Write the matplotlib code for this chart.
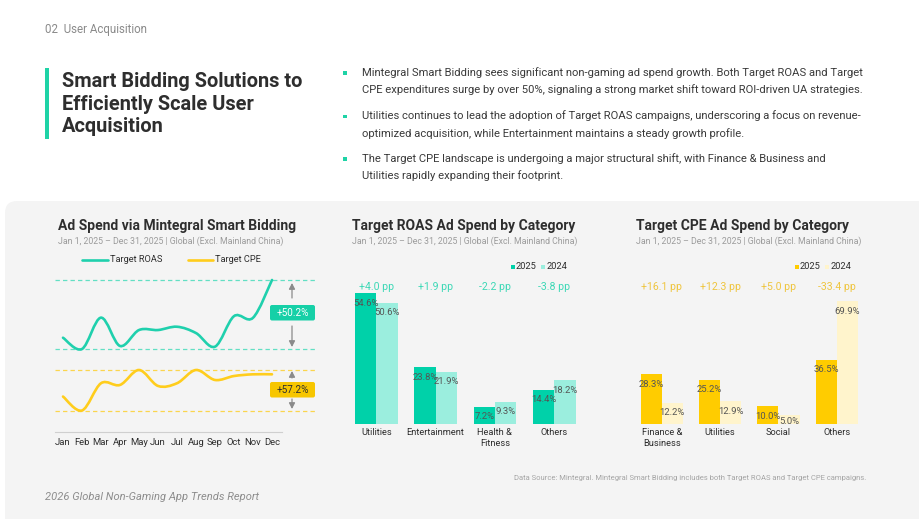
import numpy as np
import matplotlib
matplotlib.use("Agg")
import matplotlib.pyplot as plt
from matplotlib.path import Path
from matplotlib.patches import PathPatch, FancyBboxPatch, Rectangle

W, H = 920, 519

# monthly ad spend index (Feb = 100)
months = ["Jan", "Feb", "Mar", "Apr", "May", "Jun", "Jul", "Aug", "Sep", "Oct", "Nov", "Dec"]
roas_trend = [108.2, 100.0, 122.8, 102.2, 113.8, 113.8, 116.2, 111.6, 101.7, 123.9, 122.7, 150.2]
cpe_trend = [119.7, 100.0, 138.5, 136.1, 157.2, 134.7, 138.5, 157.2, 143.1, 148.7, 151.1, 151.1]

roas_cats = ["Utilities", "Entertainment", "Health &\nFitness", "Others"]
roas_2025 = [54.6, 23.8, 7.2, 14.4]
roas_2024 = [50.6, 21.9, 9.3, 18.2]
roas_pp = [4.0, 1.9, -2.2, -3.8]

cpe_cats = ["Finance &\nBusiness", "Utilities", "Social", "Others"]
cpe_2025 = [28.3, 25.2, 10.0, 36.5]
cpe_2024 = [12.2, 12.9, 5.0, 69.9]
cpe_pp = [16.1, 12.3, 5.0, -33.4]

bullets = [
    "Mintegral Smart Bidding sees significant non-gaming ad spend growth. Both Target ROAS and Target\n"
    "CPE expenditures surge by over 50%, signaling a strong market shift toward ROI-driven UA strategies.",
    "Utilities continues to lead the adoption of Target ROAS campaigns, underscoring a focus on revenue-\n"
    "optimized acquisition, while Entertainment maintains a steady growth profile.",
    "The Target CPE landscape is undergoing a major structural shift, with Finance & Business and\n"
    "Utilities rapidly expanding their footprint.",
]

TEAL = "#00d1a9"
TEAL_L = "#9beede"
TEAL_T = "#3dd8b6"
YEL = "#ffcc00"
YEL_L = "#fff4cc"
YEL_T = "#efc53f"
DARK = "#2e2e2e"
GREY = "#9b9b9b"
PANEL = "#f4f4f4"

plt.rcParams["font.family"] = ["Roboto", "DejaVu Sans"]

fig = plt.figure(figsize=(W / 100, H / 100), dpi=100)
fig.patch.set_facecolor("white")

# pixel-coordinate background axes for decoration and text
bg = fig.add_axes([0, 0, 1, 1])
bg.set_xlim(0, W)
bg.set_ylim(H, 0)
bg.axis("off")
bg.set_zorder(0)


def px_axes(l, t, r, b):
    ax = fig.add_axes([l / W, 1 - b / H, (r - l) / W, (b - t) / H])
    ax.set_facecolor("none")
    ax.set_zorder(2)
    return ax


def lim_from(v1, p1, v2, p2, top, bottom):
    # y limits so that value v1 lands on pixel row p1 and v2 on p2
    k = (v2 - v1) / (p1 - p2)
    return v1 - (bottom - p1) * k, v1 + (p1 - top) * k


def smooth_path(x, y):
    pts = np.column_stack([x, y]).astype(float)
    n = len(pts)
    verts = [pts[0]]
    codes = [Path.MOVETO]
    for i in range(n - 1):
        p0 = pts[max(i - 1, 0)]
        p1 = pts[i]
        p2 = pts[i + 1]
        p3 = pts[min(i + 2, n - 1)]
        verts += [p1 + (p2 - p0) / 6, p2 - (p3 - p1) / 6, p2]
        codes += [Path.CURVE4] * 3
    return Path(verts, codes)


# grey panel
bg.add_patch(FancyBboxPatch((5, 201), 930, 340, boxstyle="round,pad=0,rounding_size=12",
                            fc=PANEL, ec="none", zorder=0))

# header
bg.text(45, 30, "02  User Acquisition", fontsize=8.3, color="#8a8a8a", va="center")
bg.add_patch(Rectangle((45, 68), 4, 71, fc="#1ed3a6", ec="none"))
bg.text(62, 104, "Smart Bidding Solutions to\nEfficiently Scale User\nAcquisition",
        fontsize=14.4, fontweight="bold", color=DARK, va="center", linespacing=1.25)
for i, txt in enumerate(bullets):
    yc = [81, 124.5, 167][i]
    bg.add_patch(Rectangle((343.5, [71, 114.5, 157][i]), 3.5, 3.5, fc="#1ed3a6", ec="none"))
    bg.text(362, yc, txt, fontsize=8.15, color="#3a3a3a", va="center", linespacing=1.72)

# footers
bg.text(866, 478, "Data Source: Mintegral. Mintegral Smart Bidding includes both Target ROAS and Target CPE campaigns.",
        fontsize=5.5, color="#a5a5a5", ha="right", va="center")
bg.text(45, 497, "2026 Global Non-Gaming App Trends Report", fontsize=8.0, color="#8d8d8d",
        style="italic", va="center")

# chart titles
sub = "Jan 1, 2025 \u2013 Dec 31, 2025 | Global (Excl. Mainland China)"
for x0, title in [(58, "Ad Spend via Mintegral Smart Bidding"),
                  (352, "Target ROAS Ad Spend by Category"),
                  (636, "Target CPE Ad Spend by Category")]:
    bg.text(x0, 226, title, fontsize=10.0, fontweight="bold", color=DARK, va="center")
    bg.text(x0, 241.5, sub, fontsize=6.3, color=GREY, va="center")

# ---- line chart ----
L, T, R, B = 55, 265, 318, 432
ax_r = px_axes(L, T, R, B)
ax_c = px_axes(L, T, R, B)
x = np.arange(len(months))
xl = ((L - 63) / 19, (R - 63) / 19)
for ax in (ax_r, ax_c):
    ax.set_xlim(*xl)
    for s in ax.spines.values():
        s.set_visible(False)
    ax.set_yticks([])
ax_c.set_xticks([])

r_min, r_max = min(roas_trend), max(roas_trend)
c_min, c_max = min(cpe_trend), max(cpe_trend)
ax_r.set_ylim(*lim_from(r_min, 349, r_max, 280, T, B))
ax_c.set_ylim(*lim_from(c_min, 410.5, c_max, 370, T, B))

ax_r.set_xticks(x, months, fontsize=6.8, color=DARK)
ax_r.tick_params(axis="x", length=0, pad=4.0)
ax_r.spines["bottom"].set_visible(True)
ax_r.spines["bottom"].set_color("#cfcfcf")
ax_r.spines["bottom"].set_linewidth(0.8)
ax_r.spines["bottom"].set_bounds(xl[0], (282 - 63) / 19)

xmax_frac = (315 - L) / (R - L)
for v in (r_min, r_max):
    ax_r.axhline(v, xmax=xmax_frac, color="#63dfc4", lw=0.9, dashes=(3.5, 2.5))
for v in (c_min, c_max):
    ax_c.axhline(v, xmax=xmax_frac, color="#fbd54e", lw=0.9, dashes=(3.5, 2.5))

ax_r.add_patch(PathPatch(smooth_path(x, roas_trend), fc="none", ec="#1fd0ad", lw=1.9,
                         capstyle="round", zorder=3))
ax_c.add_patch(PathPatch(smooth_path(x, cpe_trend), fc="none", ec="#ffcd1c", lw=1.9,
                         capstyle="round", zorder=3))

# legend
bg.plot([82, 108], [260, 260], color="#1fd0ad", lw=1.9, solid_capstyle="round")
bg.text(110, 260, "Target ROAS", fontsize=6.7, color=DARK, va="center")
bg.plot([188, 213], [260, 260], color="#ffcd1c", lw=1.9, solid_capstyle="round")
bg.text(215, 260, "Target CPE", fontsize=6.7, color=DARK, va="center")

# growth callouts
arrow = dict(arrowstyle="-|>,head_length=0.35,head_width=0.18", color="#8a8a8a", lw=0.9,
             shrinkA=0, shrinkB=0)
r_gain = (r_max / r_min - 1) * 100
c_gain = (c_max / c_min - 1) * 100
bg.add_patch(FancyBboxPatch((270, 305), 45, 15.5, boxstyle="round,pad=0,rounding_size=2",
                            fc="#16d0a7", ec="none", zorder=3))
bg.text(292.5, 313, f"+{r_gain:.1f}%", fontsize=7.2, color="white", ha="center", va="center", zorder=4)
bg.add_patch(FancyBboxPatch((270, 382), 45, 15.5, boxstyle="round,pad=0,rounding_size=2",
                            fc="#f7c600", ec="none", zorder=3))
bg.text(292.5, 390, f"+{c_gain:.1f}%", fontsize=7.2, color=DARK, ha="center", va="center", zorder=4)
bg.annotate("", xy=(292, 283), xytext=(292, 298), arrowprops=arrow)
bg.annotate("", xy=(292, 347), xytext=(292, 326), arrowprops=arrow)
bg.annotate("", xy=(292, 371), xytext=(292, 378), arrowprops=arrow)
bg.annotate("", xy=(292, 409), xytext=(292, 399), arrowprops=arrow)


# ---- bar charts ----
def bar_chart(l, r, scale, cats, v25, v24, pp, c25, c24, ctext):
    ax = px_axes(l, 260, r, 424)
    ax.set_ylim(0, (424 - 260) / scale)
    ax.set_xlim(-0.5, 3.5)
    for s in ax.spines.values():
        s.set_visible(False)
    ax.set_yticks([])
    xs = np.arange(len(cats))
    w = 0.36
    ax.bar(xs - w / 2, v25, w, color=c25, zorder=2)
    ax.bar(xs + w / 2, v24, w, color=c24, zorder=2)
    for xi, a, b, d in zip(xs, v25, v24, pp):
        for xx, v in ((xi - w / 2, a), (xi + w / 2, b)):
            off = min(10, v * scale - 2)
            ax.annotate(f"{v:.1f}%", (xx, v), xytext=(0, -off), textcoords="offset pixels",
                        ha="center", va="center", fontsize=6.8, color="#555555", zorder=3)
        ax.text(xi, (424 - 286.5) / scale, f"{d:+.1f} pp", ha="center", va="center",
                fontsize=7.6, color=ctext)
    ax.set_xticks(xs, cats, fontsize=6.7, color=DARK, linespacing=1.3)
    ax.tick_params(axis="x", length=0, pad=3.0)
    return ax


ax_b1 = bar_chart(346.65, 583.85, 2.394, roas_cats, roas_2025, roas_2024, roas_pp,
                  TEAL, TEAL_L, TEAL_T)
ax_b2 = bar_chart(632.5, 866.1, 1.756, cpe_cats, cpe_2025, cpe_2024, cpe_pp,
                  YEL, YEL_L, YEL_T)

for x0, c25, c24 in [(511.5, TEAL, TEAL_L), (795.5, YEL, YEL_L)]:
    bg.add_patch(Rectangle((x0, 265), 3.6, 3.6, fc=c25, ec="none"))
    bg.text(x0 + 4.5, 266.8, "2025", fontsize=6.7, color=DARK, va="center")
    bg.add_patch(Rectangle((x0 + 30, 265), 3.6, 3.6, fc=c24, ec="none"))
    bg.text(x0 + 35, 266.8, "2024", fontsize=6.7, color=DARK, va="center")

fig.savefig("out.png", dpi=100, facecolor="white")
